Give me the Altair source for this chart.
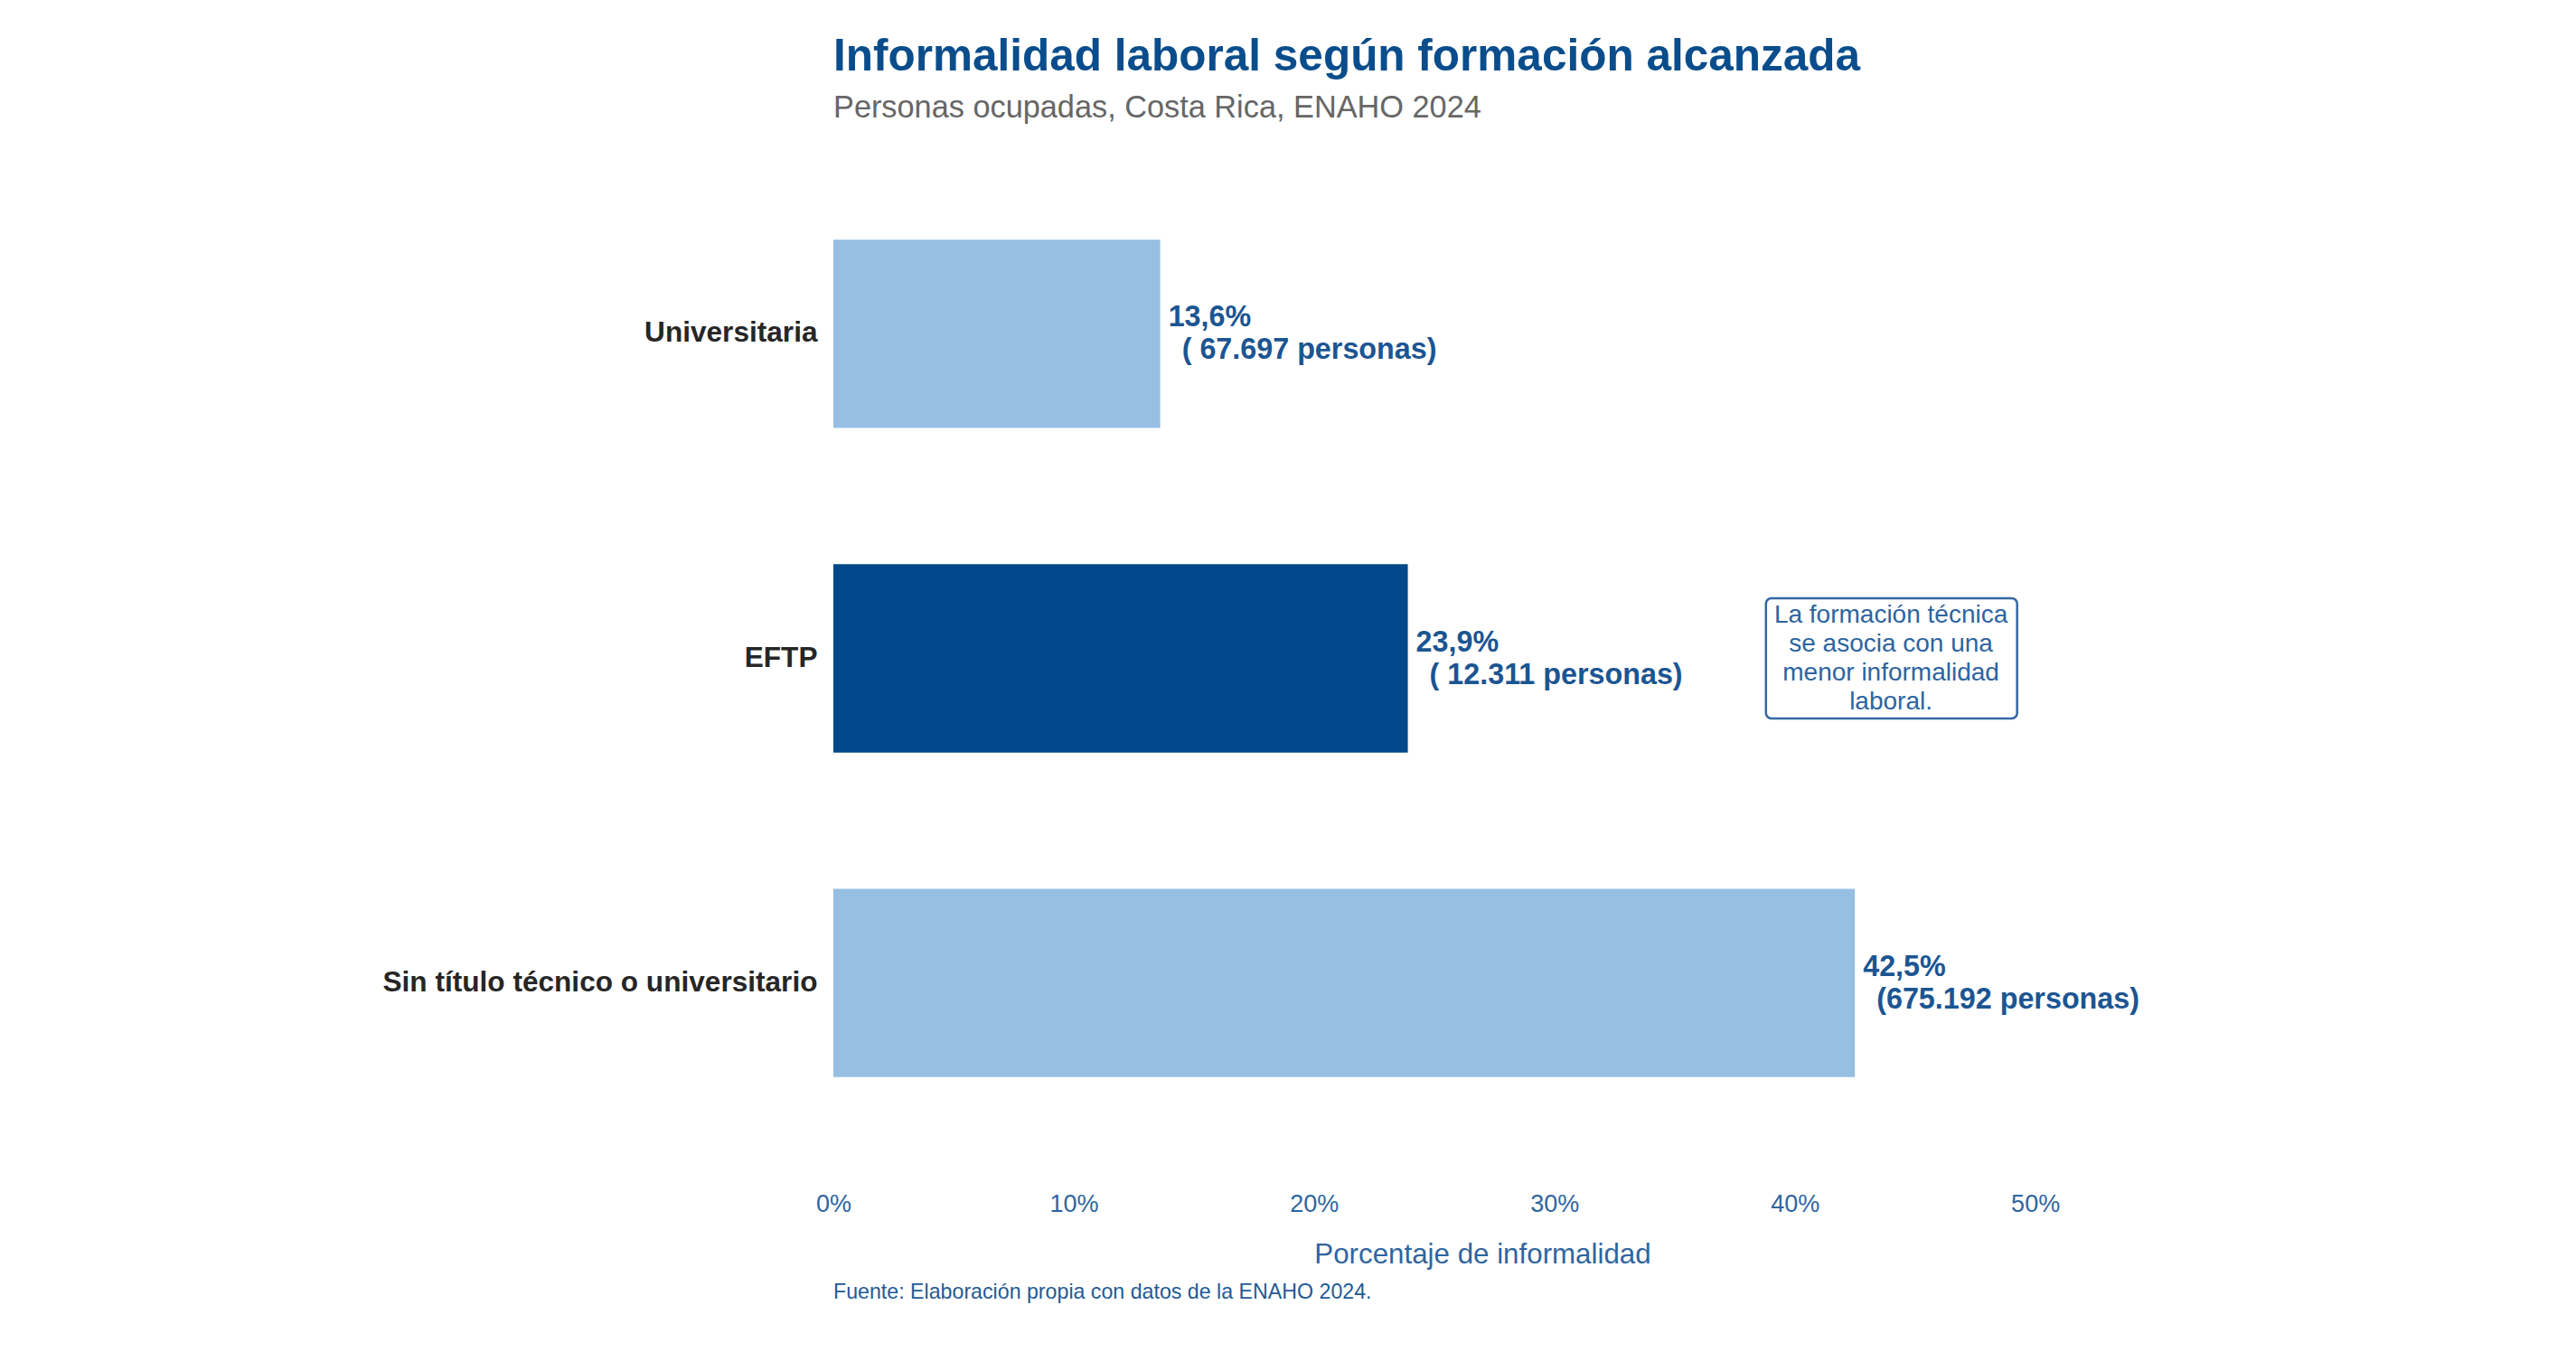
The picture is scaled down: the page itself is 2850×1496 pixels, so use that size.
import altair as alt
import pandas as pd

# ---- data ----
categorias = ["Universitaria", "EFTP", "Sin título técnico o universitario"]
porcentajes = [13.6, 23.9, 42.5]
personas = [67697, 12311, 675192]
destacado = ["no", "sí", "no"]

ticks_x = [0, 10, 20, 30, 40, 50]

anot_categoria = ["EFTP"]
anot_x = [44.0]
anot_x1 = [38.8]
anot_x2 = [49.25]
anot_texto = ["La formación técnica\nse asocia con una\nmenor informalidad\nlaboral."]

titulo = "Informalidad laboral según formación alcanzada"
subtitulo = "Personas ocupadas, Costa Rica, ENAHO 2024"
fuente = "Fuente: Elaboración propia con datos de la ENAHO 2024."


def fmt_personas(n):
    s = f"{n:,}".replace(",", ".")
    return s.rjust(7)


etiqueta_pct = [f"{p:.1f}".replace(".", ",") + "%" for p in porcentajes]
etiqueta_personas = ["(" + fmt_personas(n) + " personas)" for n in personas]

df = pd.DataFrame({
    "categoria": categorias,
    "pct": porcentajes,
    "destacado": destacado,
    "etq1": etiqueta_pct,
    "etq2": etiqueta_personas,
})
df_anot = pd.DataFrame({
    "categoria": anot_categoria,
    "x": anot_x,
    "x1": anot_x1,
    "x2": anot_x2,
    "texto": anot_texto,
})
df_fuente = pd.DataFrame({"texto": [fuente]})

FONT = "Liberation Sans"
W, H = 1436, 1149

x_scale = alt.Scale(domain=[0, 54], nice=False, zero=True)
y_scale = alt.Scale(paddingInner=0.42, paddingOuter=0.31)

x_enc = alt.X(
    "pct:Q",
    scale=x_scale,
    title="Porcentaje de informalidad",
    axis=alt.Axis(
        values=ticks_x,
        labelExpr="datum.value + '%'",
        grid=False, ticks=False, domain=False, labelFlush=False,
        labelFont=FONT, labelFontSize=27, labelColor="#2F65A0", labelPadding=16,
        titleFont=FONT, titleFontSize=31.3, titleColor="#2F65A0", titleFontWeight="normal",
        titlePadding=27,
    ),
)
y_enc = alt.Y(
    "categoria:N",
    sort=categorias,
    scale=y_scale,
    title=None,
    axis=alt.Axis(
        ticks=False, domain=False, grid=False,
        labelFont=FONT, labelFontSize=31.6, labelFontWeight="bold", labelColor="#262626",
        labelPadding=18, labelLimit=1000,
    ),
)

bars = alt.Chart(df).mark_bar().encode(
    x=x_enc,
    y=y_enc,
    color=alt.Color(
        "destacado:N",
        scale=alt.Scale(domain=["no", "sí"], range=["#96BFE3", "#01498A"]),
        legend=None,
    ),
)

labels1 = alt.Chart(df).mark_text(
    align="left", baseline="middle", dx=9, dy=-18, font=FONT, fontSize=32.3,
    fontWeight="bold", color="#1B5592",
).encode(
    x=alt.X("pct:Q", scale=x_scale),
    y=alt.Y("categoria:N", sort=categorias, scale=y_scale),
    text="etq1:N",
)

labels2 = alt.Chart(df).mark_text(
    align="left", baseline="middle", dx=24, dy=18, font=FONT, fontSize=32.3,
    fontWeight="bold", color="#1B5592",
).encode(
    x=alt.X("pct:Q", scale=x_scale),
    y=alt.Y("categoria:N", sort=categorias, scale=y_scale),
    text="etq2:N",
)

box = alt.Chart(df_anot).mark_bar(
    height=133, cornerRadius=6, fill="white", stroke="#3468A3", strokeWidth=2.5,
).encode(
    x=alt.X("x1:Q", scale=x_scale),
    x2="x2:Q",
    y=alt.Y("categoria:N", sort=categorias, scale=y_scale),
)

box_text = alt.Chart(df_anot).mark_text(
    align="center", baseline="middle", dy=-48, font=FONT, fontSize=28,
    color="#2D64A0", lineBreak="\n", lineHeight=32,
).encode(
    x=alt.X("x:Q", scale=x_scale),
    y=alt.Y("categoria:N", sort=categorias, scale=y_scale),
    text="texto:N",
)

foot = alt.Chart(df_fuente).mark_text(
    align="left", baseline="middle", font=FONT, fontSize=23.2, color="#1F5A96",
).encode(
    x=alt.value(0),
    y=alt.value(1276),
    text="texto:N",
)

chart = alt.layer(bars, labels1, labels2, box, box_text, foot).properties(
    width=W,
    height=H,
    title=alt.TitleParams(
        text=titulo,
        subtitle=subtitulo,
        anchor="start",
        frame="group",
        font=FONT,
        fontSize=49.5,
        fontWeight="bold",
        color="#0A4D8C",
        subtitleFont=FONT,
        subtitleFontSize=34.3,
        subtitleColor="#666666",
        subtitlePadding=14,
        offset=16,
    ),
    autosize=alt.AutoSizeParams(type="none"),
    padding={"left": 914, "top": 146, "right": 484, "bottom": 185},
).configure(
    background="white",
    view=alt.ViewConfig(strokeWidth=0, stroke="transparent"),
)

chart.save("out.html", embed_options={"renderer": "svg", "actions": False})
